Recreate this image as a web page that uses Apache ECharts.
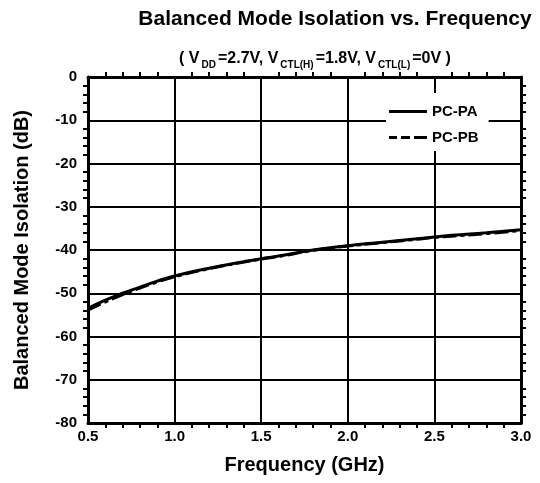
<!DOCTYPE html>
<html>
<head>
<meta charset="utf-8">
<script src="https://cdn.jsdelivr.net/npm/echarts@6/dist/echarts.min.js"></script>
<style>
html,body{margin:0;padding:0;background:#fff;}
#c{width:540px;height:483px;}
</style>
</head>
<body>
<div id="c"></div>
<script>
const freq = [0.5, 0.6, 0.7, 0.8, 0.9, 1.0, 1.2, 1.4, 1.5, 1.6, 1.8, 2.0, 2.2, 2.4, 2.5, 2.6, 2.8, 3.0];
const pcPA = [-53.5, -51.6, -50.0, -48.6, -47.2, -46.0, -44.2, -42.7, -42.0, -41.4, -40.0, -39.0, -38.2, -37.4, -37.0, -36.6, -36.0, -35.3];
const pcPB = [-53.9, -52.0, -50.3, -48.8, -47.4, -46.2, -44.3, -42.8, -42.1, -41.5, -40.1, -39.1, -38.3, -37.5, -37.1, -36.8, -36.2, -35.5];
const seriesNames = ['PC-PA', 'PC-PB'];
const xTicks = [0.5, 1.0, 1.5, 2.0, 2.5, 3.0];
const yTicks = [0, -10, -20, -30, -40, -50, -60, -70, -80];

const FONT = '"Liberation Sans", Arial, sans-serif';
const chart = echarts.init(document.getElementById('c'), null, {renderer: 'canvas'});

const axisCommon = {
  axisLine: {show: true, onZero: false, lineStyle: {color: '#000', width: 3}},
  axisTick: {show: false},
  minorTick: {show: true, splitNumber: 5, length: 5, lineStyle: {color: '#000', width: 2}},
  minorSplitLine: {show: false}
};

chart.setOption({
  animation: false,
  backgroundColor: '#fff',
  title: [
    {text: 'Balanced Mode Isolation vs. Frequency', left: 330, top: 4, textAlign: 'center',
     textStyle: {fontFamily: FONT, fontWeight: 'bold', fontSize: 21, color: '#000'}},
    {text: '( V{s|DD}=2.7V, V{s|CTL(H)}=1.8V, V{s|CTL(L)}=0V )', left: 310, top: 43, textAlign: 'center',
     textStyle: {fontFamily: FONT, fontWeight: 'bold', fontSize: 16, color: '#000',
       rich: {s: {fontFamily: FONT, fontWeight: 'bold', fontSize: 10, color: '#000', padding: [12, 2, 0, 2]}}}}
  ],
  legend: {
    data: [
      {name: seriesNames[0], icon: 'path://M0,0h38v3h-38z'},
      {name: seriesNames[1], icon: 'path://M0,0h8v3h-8z M12,0h9v3h-9z M25,0h13v3h-13z'}
    ],
    orient: 'vertical',
    left: 386, top: 93,
    itemWidth: 38, itemHeight: 3, itemGap: 11,
    backgroundColor: '#fff',
    padding: [11, 10, 6, 3],
    itemStyle: {color: '#000'},
    textStyle: {fontFamily: FONT, fontWeight: 'bold', fontSize: 15, color: '#000'}
  },
  grid: {left: 88, top: 77, right: 19, bottom: 60},
  xAxis: [
    Object.assign({}, axisCommon, {
      type: 'value', min: 0.5, max: 3.0, interval: 0.5, position: 'bottom',
      name: 'Frequency (GHz)', nameLocation: 'middle', nameGap: 32,
      nameTextStyle: {fontFamily: FONT, fontWeight: 'bold', fontSize: 20, color: '#000'},
      axisLabel: {fontFamily: FONT, fontWeight: 'bold', fontSize: 15, color: '#000', margin: 6,
        formatter: v => xTicks.indexOf(v) >= 0 ? v.toFixed(1) : ''},
      splitLine: {show: true, lineStyle: {color: '#000', width: 2}}
    }),
    Object.assign({}, axisCommon, {
      type: 'value', min: 0.5, max: 3.0, interval: 0.5, position: 'top',
      axisLabel: {show: false}, splitLine: {show: false}
    })
  ],
  yAxis: [
    Object.assign({}, axisCommon, {
      type: 'value', min: -80, max: 0, interval: 10, position: 'left',
      name: 'Balanced Mode Isolation (dB)', nameLocation: 'middle', nameGap: 56, nameRotate: 90,
      nameTextStyle: {fontFamily: FONT, fontWeight: 'bold', fontSize: 20, color: '#000'},
      axisLabel: {fontFamily: FONT, fontWeight: 'bold', fontSize: 15, color: '#000', margin: 11,
        formatter: v => yTicks.indexOf(v) >= 0 ? String(v) : ''},
      splitLine: {show: true, lineStyle: {color: '#000', width: 2}}
    }),
    Object.assign({}, axisCommon, {
      type: 'value', min: -80, max: 0, interval: 10, position: 'right',
      axisLabel: {show: false}, splitLine: {show: false}
    })
  ],
  series: [
    {name: seriesNames[0], type: 'line', smooth: true, symbol: 'none', z: 5,
     data: freq.map((f, i) => [f, pcPA[i]]),
     lineStyle: {color: '#000', width: 3, type: 'solid'}, itemStyle: {color: '#000'}},
    {name: seriesNames[1], type: 'line', smooth: true, symbol: 'none', z: 5,
     data: freq.map((f, i) => [f, pcPB[i]]),
     lineStyle: {color: '#000', width: 3, type: [14, 4, 4, 4]}, itemStyle: {color: '#000'}}
  ]
});
</script>
</body>
</html>
